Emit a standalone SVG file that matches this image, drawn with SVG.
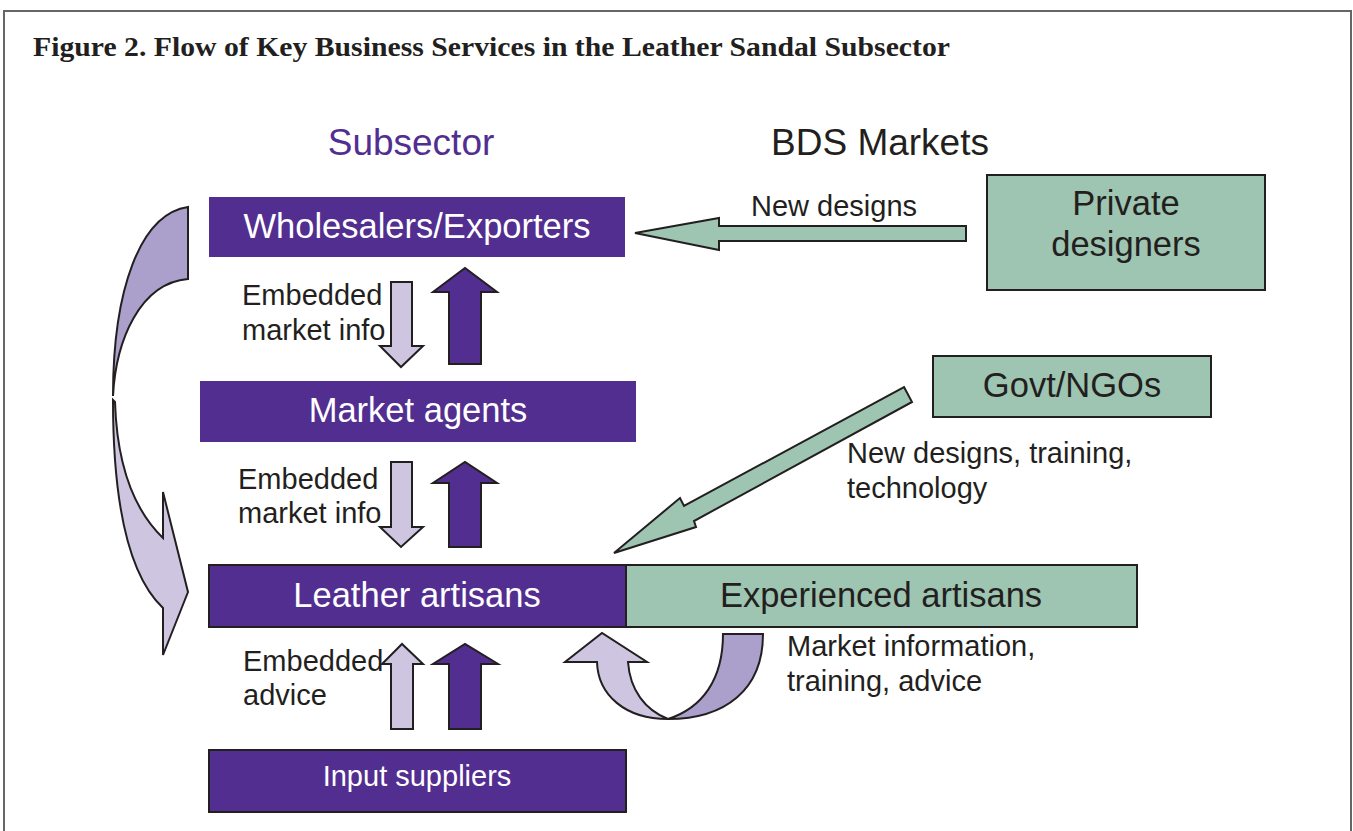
<svg xmlns="http://www.w3.org/2000/svg" width="1353" height="831" viewBox="0 0 1353 831">
<style>
.t{font-family:"Liberation Sans",Arial,sans-serif;fill:#231F20}
.w{font-family:"Liberation Sans",Arial,sans-serif;fill:#FFFFFF;text-anchor:middle}
.pb{fill:#522E91}
.gb{fill:#9EC5B1;stroke:#231F20;stroke-width:2}
.ol{stroke:#231F20;stroke-width:2;stroke-linejoin:miter}
.lp{fill:#CEC6E1}
.mp{fill:#AB9FCB}
.dp{fill:#522E91}
.ga{fill:#9EC5B1}
</style>
<rect x="0" y="0" width="1353" height="831" fill="#FFFFFF"/>
<path d="M4,831 L4,11 L1351,11 L1351,831" fill="none" stroke="#666666" stroke-width="2"/>
<text x="33" y="56" font-family="Liberation Serif,serif" font-weight="bold" font-size="27" fill="#231F20" textLength="917" lengthAdjust="spacingAndGlyphs">Figure 2. Flow of Key Business Services in the Leather Sandal Subsector</text>
<text x="411" y="155" font-family="Liberation Sans,Arial,sans-serif" font-size="37" fill="#522E91" text-anchor="middle">Subsector</text>
<text x="880" y="155" class="t" font-size="37" text-anchor="middle">BDS Markets</text>

<g id="wholesalers">
<rect class="pb" x="209" y="197" width="416" height="60"/>
<text class="w" x="417" y="238" font-size="34.5">Wholesalers/Exporters</text>
</g>
<g id="market-agents">
<rect class="pb" x="200" y="381" width="436" height="61"/>
<text class="w" x="418" y="422" font-size="34.5">Market agents</text>
</g>
<g id="leather-artisans">
<rect class="pb" x="209" y="565" width="417" height="62" stroke="#231F20" stroke-width="2"/>
<text class="w" x="417" y="607" font-size="34.5">Leather artisans</text>
</g>
<g id="experienced-artisans">
<rect class="gb" x="626" y="565" width="511" height="62"/>
<text class="t" x="881" y="607" font-size="34.5" text-anchor="middle">Experienced artisans</text>
</g>
<g id="input-suppliers">
<rect class="pb" x="209" y="750" width="417" height="62" stroke="#231F20" stroke-width="2"/>
<text class="w" x="417" y="786" font-size="29">Input suppliers</text>
</g>
<g id="private-designers">
<rect class="gb" x="987" y="175" width="278" height="115"/>
<text class="t" x="1126" y="215" font-size="34.5" text-anchor="middle">Private</text>
<text class="t" x="1126" y="256" font-size="34.5" text-anchor="middle">designers</text>
</g>
<g id="govt-ngos">
<rect class="gb" x="933" y="356" width="278" height="61"/>
<text class="t" x="1072" y="397" font-size="34.5" text-anchor="middle">Govt/NGOs</text>
</g>

<g id="connectors">
<polygon class="ga ol" points="966,226 966,241 719,241 719,250 635,233 719,218 719,226"/>
<polygon class="ga ol" points="904,387 912,402 694,521 696,527 614,553 680,498 684,506"/>
<polygon class="lp ol" points="391,282 412,282 412,346 423,346 401,367 380,346 391,346"/>
<polygon class="dp ol" points="449,364 481,364 481,292 497,292 465,268 433,292 449,292"/>
<polygon class="lp ol" points="391,462 412,462 412,527 423,527 401,547 380,527 391,527"/>
<polygon class="dp ol" points="449,547 481,547 481,483 497,483 465,462 433,483 449,483"/>
<polygon class="lp ol" points="391,729 413,729 413,664 423,664 402,644 382,664 391,664"/>
<polygon class="dp ol" points="449,729 481,729 481,664 498,664 465,644 433,664 449,664"/>
<path class="lp ol" d="M113,400 C113,500 128,575 163,608 L163,655 L188,592 L163,492 L163,538 C134,510 117,465 115,402 Z"/>
<path class="mp ol" d="M188,207 C140,214 113,290 113,396 C116,340 140,283 188,279 Z"/>
<path class="mp ol" d="M723,634 L763,634 C763,690 725,719 668,719 C702,708 723,680 723,634 Z"/>
<path class="lp ol" d="M668,719 C625,719 598,695 597,662 L565,662 L602,633 L647,662 L628,662 C630,690 645,710 668,719 Z"/>
</g>

<g id="labels">
<text class="t" x="834" y="216" font-size="29" text-anchor="middle">New designs</text>
<text class="t" x="242" y="305" font-size="29">Embedded</text>
<text class="t" x="242" y="340" font-size="29">market info</text>
<text class="t" x="238" y="489" font-size="29">Embedded</text>
<text class="t" x="238" y="523" font-size="29">market info</text>
<text class="t" x="243" y="671" font-size="29">Embedded</text>
<text class="t" x="243" y="705" font-size="29">advice</text>
<text class="t" x="847" y="463" font-size="29">New designs, training,</text>
<text class="t" x="847" y="498" font-size="29">technology</text>
<text class="t" x="787" y="656" font-size="29">Market information,</text>
<text class="t" x="787" y="691" font-size="29">training, advice</text>
</g>
</svg>
